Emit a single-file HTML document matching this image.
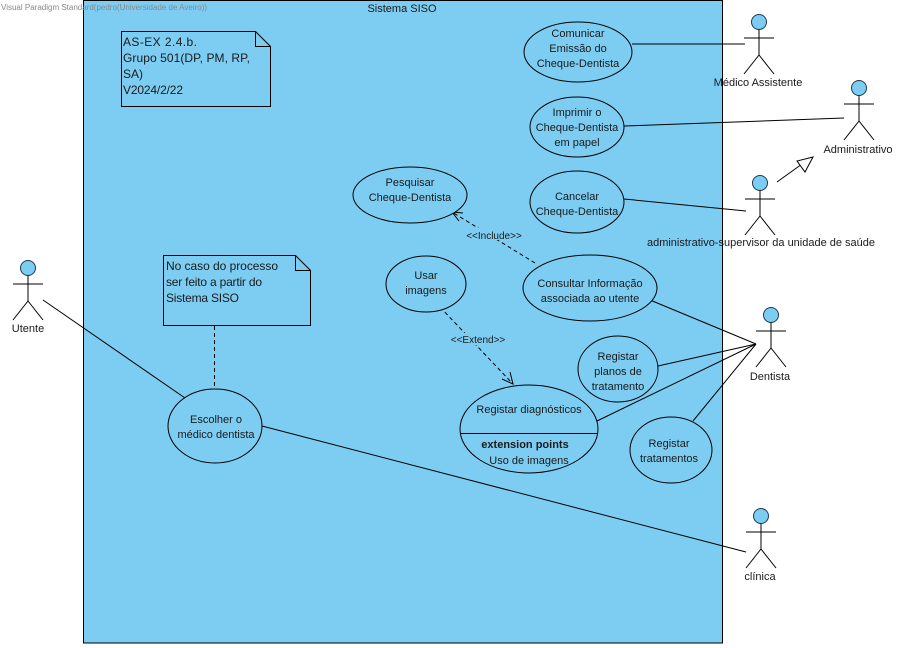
<!DOCTYPE html>
<html><head><meta charset="utf-8"><style>
html,body{margin:0;padding:0;background:#fff;}
svg{display:block;}
text{font-family:"Liberation Sans",sans-serif;font-size:11px;fill:#1a1a1a;}
.n{font-size:12px;}
</style></head><body>
<svg width="908" height="648" viewBox="0 0 908 648" xmlns="http://www.w3.org/2000/svg">
<defs>
<g id="actor" fill="none" stroke="#000" stroke-width="1">
<circle cx="0" cy="0" r="7.5" fill="#7dcdf3" stroke="#1a3a50"/>
<line x1="0" y1="7.5" x2="0" y2="33"/>
<line x1="-15" y1="16" x2="15" y2="16"/>
<line x1="0" y1="33" x2="-15" y2="52"/>
<line x1="0" y1="33" x2="15" y2="52"/>
</g>
</defs>
<rect x="83.5" y="0.5" width="639" height="642.5" fill="#7dcdf3" stroke="#000" stroke-width="1"/>
<text x="1" y="10" style="font-size:8px;fill:#888">Visual Paradigm Standard(pedro(Universidade de Aveiro))</text>
<text x="402" y="12" text-anchor="middle">Sistema SISO</text>

<!-- notes -->
<path d="M121.5,31.5 H255.5 L270.5,46.5 V106.5 H121.5 Z M255.5,31.5 V46.5 H270.5" fill="#7dcdf3" stroke="#000"/>
<text class="n" x="123" y="46" textLength="74">AS-EX 2.4.b.</text>
<text class="n" x="123" y="62" textLength="127">Grupo 501(DP, PM, RP,</text>
<text class="n" x="123" y="78">SA)</text>
<text class="n" x="123" y="94" textLength="60">V2024/2/22</text>
<path d="M163.5,255.5 H295.5 L310.5,270.5 V325.5 H163.5 Z M295.5,255.5 V270.5 H310.5" fill="#7dcdf3" stroke="#000"/>
<text class="n" x="166" y="270" textLength="112">No caso do processo</text>
<text class="n" x="166" y="286" textLength="96">ser feito a partir do</text>
<text class="n" x="166" y="302" textLength="73">Sistema SISO</text>
<line x1="214.5" y1="326" x2="214.5" y2="389" stroke="#000" stroke-dasharray="4,3"/>

<!-- associations -->
<g stroke="#000" stroke-width="1" fill="none">
<line x1="632" y1="44" x2="745" y2="44"/>
<line x1="624" y1="126" x2="844" y2="118"/>
<line x1="624" y1="199" x2="746" y2="211"/>
<line x1="650" y1="300" x2="756" y2="344"/>
<line x1="658" y1="366" x2="756" y2="344"/>
<line x1="597" y1="421" x2="756" y2="344"/>
<line x1="693" y1="421" x2="756" y2="344"/>
<line x1="43" y1="300" x2="185" y2="398"/>
<line x1="262" y1="426" x2="746" y2="552"/>
<line x1="777" y1="182" x2="802" y2="164"/>
<polygon points="813,157 797,161 805,172" fill="#fff"/>
<line x1="535" y1="263" x2="452" y2="212" stroke-dasharray="4,3"/>
<polyline points="463,213 452,212 459,221"/>
<line x1="440" y1="307" x2="513" y2="384" stroke-dasharray="4,3"/>
<polyline points="502,379 513,384 510,372"/>
</g>
<rect x="462" y="228" width="64" height="12" fill="#7dcdf3"/>
<rect x="447" y="333" width="62" height="12" fill="#7dcdf3"/>
<text x="494" y="239" text-anchor="middle" style="font-size:10px">&lt;&lt;Include&gt;&gt;</text>
<text x="478" y="343" text-anchor="middle" style="font-size:10px">&lt;&lt;Extend&gt;&gt;</text>

<!-- use cases -->
<g fill="#7dcdf3" stroke="#000" stroke-width="1">
<ellipse cx="578" cy="52" rx="54" ry="30"/>
<ellipse cx="577" cy="127" rx="47" ry="30"/>
<ellipse cx="410" cy="195" rx="57" ry="28"/>
<ellipse cx="577" cy="202" rx="47" ry="31"/>
<ellipse cx="426" cy="284" rx="40" ry="28"/>
<ellipse cx="590" cy="288" rx="67" ry="33"/>
<ellipse cx="618" cy="369" rx="40" ry="33"/>
<ellipse cx="529" cy="429" rx="69" ry="44"/>
<ellipse cx="671" cy="450" rx="41" ry="33"/>
<ellipse cx="215" cy="426" rx="47" ry="37"/>
</g>
<line x1="460" y1="433.5" x2="598" y2="433.5" stroke="#000"/>
<g text-anchor="middle">
<text x="578" y="37">Comunicar</text><text x="578" y="52">Emissão do</text><text x="578" y="67">Cheque-Dentista</text>
<text x="577" y="116">Imprimir o</text><text x="577" y="131">Cheque-Dentista</text><text x="577" y="146">em papel</text>
<text x="410" y="186">Pesquisar</text><text x="410" y="201">Cheque-Dentista</text>
<text x="577" y="200">Cancelar</text><text x="577" y="215">Cheque-Dentista</text>
<text x="426" y="279">Usar</text><text x="426" y="294">imagens</text>
<text x="590" y="287">Consultar Informação</text><text x="590" y="302">associada ao utente</text>
<text x="618" y="360">Registar</text><text x="618" y="375">planos de</text><text x="618" y="390">tratamento</text>
<text x="529" y="413">Registar diagnósticos</text>
<text x="525" y="448" style="font-weight:bold">extension points</text>
<text x="529" y="464">Uso de imagens</text>
<text x="669" y="447">Registar</text><text x="669" y="462">tratamentos</text>
<text x="216" y="423">Escolher o</text><text x="216" y="438">médico dentista</text>
</g>

<!-- actors -->
<use href="#actor" x="759" y="22"/>
<use href="#actor" x="859" y="88"/>
<use href="#actor" x="760" y="183"/>
<use href="#actor" x="28" y="268"/>
<use href="#actor" x="771" y="315"/>
<use href="#actor" x="761" y="516"/>
<g text-anchor="middle">
<text x="758" y="86">Médico Assistente</text>
<text x="858" y="153">Administrativo</text>
<text x="761" y="246">administrativo-supervisor da unidade de saúde</text>
<text x="28" y="332">Utente</text>
<text x="770" y="380">Dentista</text>
<text x="760" y="580">clínica</text>
</g>
</svg>
</body></html>
